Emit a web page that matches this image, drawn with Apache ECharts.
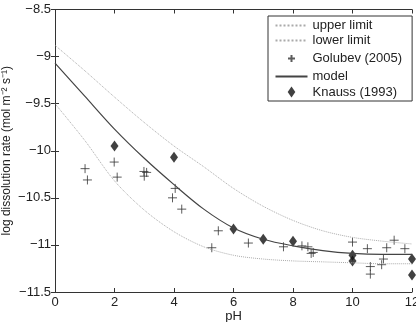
<!DOCTYPE html>
<html>
<head>
<meta charset="utf-8">
<script src="https://cdn.jsdelivr.net/npm/echarts@6/dist/echarts.min.js"></script>
<style>
    html, body { margin: 0; padding: 0; background: #fff; }
    #main { width: 416px; height: 322px; }
</style>
</head>
<body>
<div id="main"></div>
<script>
var phGrid = [0, 1, 2, 3, 4, 5, 6, 7, 8, 9, 10, 11, 12];
var upperLimit = [-8.88, -9.15, -9.43, -9.70, -9.95, -10.17, -10.40, -10.59, -10.74, -10.85, -10.92, -10.96, -10.99];
var lowerLimit = [-9.50, -9.89, -10.32, -10.63, -10.86, -11.02, -11.11, -11.15, -11.17, -11.18, -11.19, -11.20, -11.20];
var modelRate = [-9.07, -9.42, -9.77, -10.08, -10.36, -10.62, -10.82, -10.94, -11.01, -11.06, -11.09, -11.10, -11.10];

var golubevPH = [1.01, 1.09, 1.99, 2.09, 2.99, 3.08, 3.0, 3.95, 4.04, 4.26, 5.27, 5.49, 6.5, 7.68, 8.3, 8.5, 8.61, 8.68, 10.0, 10.5, 10.6, 10.6, 10.98, 11.04, 11.15, 11.4, 11.76];
var golubevRate = [-10.19, -10.31, -10.12, -10.28, -10.22, -10.23, -10.27, -10.50, -10.40, -10.62, -11.03, -10.85, -10.98, -11.02, -11.01, -11.02, -11.09, -11.08, -10.97, -11.04, -11.23, -11.31, -11.21, -11.15, -11.03, -10.95, -11.04];

var knaussPH = [2, 4, 6, 7, 8, 10, 10, 12, 12];
var knaussRate = [-9.95, -10.07, -10.83, -10.94, -10.96, -11.11, -11.17, -11.15, -11.32];

function pairs(xs, ys) {
    var out = [];
    for (var i = 0; i < xs.length; i++) out.push([xs[i], ys[i]]);
    return out;
}

function minusSign(v) {
    return String(v).replace('-', '\u2212');
}

var chart = echarts.init(document.getElementById('main'));

var font = "'Liberation Sans', Arial, Helvetica, sans-serif";
var plusPath = 'path://M0,-5L0,5M-5,0L5,0';
// legend icons: the leading moves widen the box so the mark keeps its small size
var plusIcon = 'path://M-16,-7M16,7M0,-3.5L0,3.5M-3.5,0L3.5,0';
var diamondIcon = 'path://M-16,-7M16,7M0,-5.5L3.8,0L0,5.5L-3.8,0Z';

var option = {
    animation: false,
    textStyle: { fontFamily: font },
    grid: { left: 55, right: 4, top: 9.5, bottom: 30, containLabel: false, outerBoundsMode: 'none' },
    legend: {
        orient: 'vertical',
        left: 268,
        top: 16,
        padding: [3, 10, 2, 5],
        itemGap: 2,
        itemWidth: 32,
        itemHeight: 14,
        backgroundColor: '#fff',
        borderColor: '#333',
        borderWidth: 1,
        textStyle: { fontSize: 13, color: '#222', fontFamily: font },
        data: [
            { name: 'upper limit', itemStyle: { opacity: 0 } },
            { name: 'lower limit', itemStyle: { opacity: 0 } },
            { name: 'Golubev (2005)', icon: plusIcon },
            { name: 'model', itemStyle: { opacity: 0 } },
            { name: 'Knauss (1993)', icon: diamondIcon }
        ]
    },
    xAxis: [{
        type: 'value',
        min: 0, max: 12, interval: 2,
        name: 'pH',
        nameLocation: 'middle',
        nameGap: 18,
        nameMoveOverlap: false,
        nameTextStyle: { fontSize: 13, color: '#222' },
        axisLine: { lineStyle: { color: '#333' } },
        axisTick: { inside: true, length: 4, lineStyle: { color: '#333' } },
        axisLabel: { fontSize: 13, color: '#222', margin: 4 },
        splitLine: { show: false }
    }, {
        type: 'value', position: 'top',
        min: 0, max: 12, interval: 2,
        axisLine: { show: true, lineStyle: { color: '#333' } },
        axisTick: { inside: true, length: 4, lineStyle: { color: '#333' } },
        axisLabel: { show: false },
        splitLine: { show: false }
    }],
    yAxis: [{
        type: 'value',
        min: -11.5, max: -8.5, interval: 0.5,
        name: 'log dissolution rate (mol m\u207B\u00B2 s\u207B\u00B9)',
        nameLocation: 'middle',
        nameGap: 42,
        nameMoveOverlap: false,
        nameTextStyle: { fontSize: 12, color: '#222' },
        axisLine: { show: true, lineStyle: { color: '#333' } },
        axisTick: { inside: true, length: 4, lineStyle: { color: '#333' } },
        axisLabel: { fontSize: 13, color: '#222', margin: 4, formatter: minusSign },
        splitLine: { show: false }
    }, {
        type: 'value', position: 'right',
        min: -11.5, max: -8.5, interval: 0.5,
        axisLine: { show: true, lineStyle: { color: '#333' } },
        axisTick: { inside: true, length: 4, lineStyle: { color: '#333' } },
        axisLabel: { show: false },
        splitLine: { show: false }
    }],
    series: [{
        name: 'upper limit',
        type: 'line',
        data: pairs(phGrid, upperLimit),
        smooth: 0.3,
        symbol: 'none',
        lineStyle: { type: 'dotted', width: 1, color: '#aaa' },
        itemStyle: { color: '#aaa' }
    }, {
        name: 'lower limit',
        type: 'line',
        data: pairs(phGrid, lowerLimit),
        smooth: 0.3,
        symbol: 'none',
        lineStyle: { type: 'dotted', width: 1, color: '#aaa' },
        itemStyle: { color: '#aaa' }
    }, {
        name: 'Golubev (2005)',
        type: 'scatter',
        data: pairs(golubevPH, golubevRate),
        symbol: plusPath,
        symbolSize: 9,
        itemStyle: { color: 'none', borderColor: '#333', borderWidth: 1 }
    }, {
        name: 'model',
        type: 'line',
        data: pairs(phGrid, modelRate),
        smooth: 0.3,
        symbol: 'none',
        lineStyle: { width: 1.2, color: '#444' },
        itemStyle: { color: '#444' }
    }, {
        name: 'Knauss (1993)',
        type: 'scatter',
        data: pairs(knaussPH, knaussRate),
        symbol: 'diamond',
        symbolSize: [8, 11],
        itemStyle: { color: '#111' }
    }]
};

chart.setOption(option);
</script>
</body>
</html>
